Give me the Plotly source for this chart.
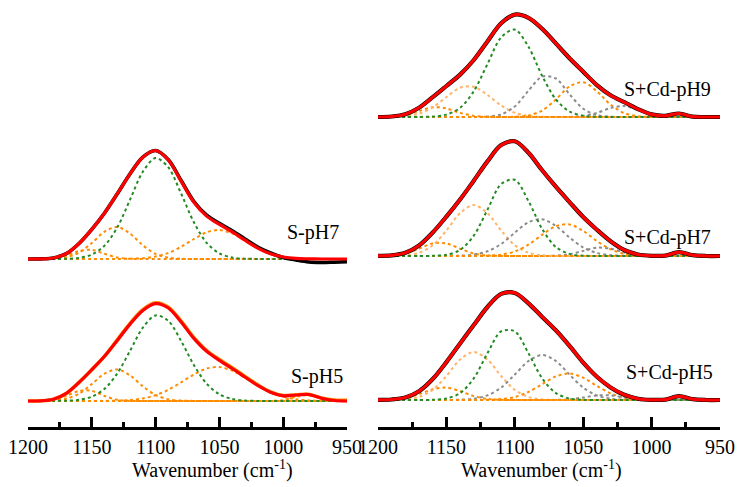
import plotly.graph_objects as go

# ---------------- data ----------------
wavenumber = [1200, 1190, 1180, 1170, 1160, 1150, 1140, 1130, 1120, 1110, 1100, 1090, 1080,
              1070, 1060, 1050, 1040, 1030, 1020, 1010, 1000, 990, 980, 970, 960, 950]
tick_labels = [1200, 1150, 1100, 1050, 1000, 950]
axis_title = "Wavenumber (cm<sup>-1</sup>)"

# S-pH7 : fitted bands (absorbance, arbitrary units)
s_ph7_band_1153 = [0, 0.1, 0.7, 3.4, 8.0, 9.2, 5.2, 1.5, 0.2, 0, 0, 0, 0, 0, 0, 0, 0, 0, 0, 0, 0, 0, 0, 0, 0, 0]
s_ph7_band_1131 = [0, 0, 0.3, 1.7, 6.4, 16.0, 27.4, 32.0, 25.4, 13.7, 5.1, 1.3, 0.2, 0, 0, 0, 0, 0, 0, 0, 0, 0, 0, 0, 0, 0]
s_ph7_band_1099 = [0, 0, 0, 0.2, 1.1, 4.4, 13.4, 31.7, 59.4, 87.3, 100.9, 91.6, 65.4, 36.7, 16.2, 5.6, 1.5, 0.3, 0.1, 0, 0, 0, 0, 0, 0, 0]
s_ph7_band_1051 = [0, 0, 0, 0, 0, 0, 0, 0.1, 0.2, 0.8, 2.5, 6.1, 12.2, 20.0, 26.7, 29.0, 25.6, 18.5, 10.8, 5.2, 2.0, 0.6, 0.2, 0, 0, 0]
s_ph7_measured = [0, 0.1, 1.0, 5.3, 15.5, 29.6, 46.0, 65.2, 85.2, 101.8, 108.5, 99.3, 78.5, 57.5, 43.8, 35.6, 28.3, 20.0, 12.0, 6.0, 1.5, -1.0, -3.0, -3.5, -3.2, -2.8]

# S-pH5
s_ph5_band_1155 = [0, 0.1, 1.2, 5.0, 10.1, 10.1, 5.0, 1.2, 0.1, 0, 0, 0, 0, 0, 0, 0, 0, 0, 0, 0, 0, 0, 0, 0, 0, 0]
s_ph5_band_1131 = [0, 0.1, 0.5, 2.3, 7.3, 16.9, 27.4, 31.5, 25.5, 14.7, 6.0, 1.7, 0.4, 0.1, 0, 0, 0, 0, 0, 0, 0, 0, 0, 0, 0, 0]
s_ph5_band_1098 = [0, 0, 0.1, 0.3, 1.2, 4.3, 12.2, 27.6, 50.3, 73.3, 85.6, 80.1, 60.0, 36.0, 17.3, 6.7, 2.1, 0.5, 0.1, 0, 0, 0, 0, 0, 0, 0]
s_ph5_band_1052 = [0, 0, 0, 0, 0, 0, 0.1, 0.3, 1.0, 2.6, 5.8, 11.2, 18.6, 26.5, 32.4, 33.9, 30.4, 23.5, 15.5, 8.7, 4.3, 1.8, 0.6, 0.2, 0.1, 0]
s_ph5_band_982 = [0, 0, 0, 0, 0, 0, 0, 0, 0, 0, 0, 0, 0, 0, 0, 0, 0, 0, 0, 0.1, 0.9, 4.2, 5.9, 2.6, 0.4, 0]
s_ph5_measured = [0, 0.2, 1.8, 7.5, 18.6, 31.2, 44.8, 61.2, 77.7, 91.4, 98.2, 93.8, 79.8, 63.4, 50.5, 41.4, 33.3, 24.6, 16.2, 9.2, 5.5, 6.2, 6.6, 3.0, 1.0, 0.6]

# S+Cd-pH9
cd_ph9_band_1157 = [0, 0.4, 2.0, 5.9, 9.8, 8.6, 4.1, 1.1, 0.2, 0, 0, 0, 0, 0, 0, 0, 0, 0, 0, 0, 0, 0, 0, 0, 0, 0]
cd_ph9_band_1134 = [0, 0.1, 0.8, 3.3, 9.6, 20.0, 29.2, 30.2, 22.1, 11.5, 4.2, 1.1, 0.2, 0, 0, 0, 0, 0, 0, 0, 0, 0, 0, 0, 0, 0]
cd_ph9_band_1102 = [0, 0, 0, 0.1, 0.4, 2.4, 9.1, 25.7, 52.9, 79.6, 87.4, 70.2, 41.1, 17.6, 5.5, 1.3, 0.2, 0, 0, 0, 0, 0, 0, 0, 0, 0]
cd_ph9_band_1076 = [0, 0, 0, 0, 0, 0, 0, 0, 0.4, 2.6, 10.5, 26.3, 40.4, 38.5, 22.7, 8.3, 1.9, 0.3, 0, 0, 0, 0, 0, 0, 0, 0]
cd_ph9_band_1052 = [0, 0, 0, 0, 0, 0, 0, 0, 0, 0, 0.3, 1.6, 6.5, 17.5, 30.5, 34.7, 25.7, 12.4, 3.9, 0.8, 0.1, 0, 0, 0, 0, 0]
cd_ph9_band_1022 = [0, 0, 0, 0, 0, 0, 0, 0, 0, 0, 0, 0, 0, 0, 0.1, 1.0, 4.1, 9.0, 10.9, 7.1, 2.5, 0.5, 0.1, 0, 0, 0]
cd_ph9_band_981 = [0, 0, 0, 0, 0, 0, 0, 0, 0, 0, 0, 0, 0, 0, 0, 0, 0, 0, 0, 0, 0, 0.7, 3.4, 0.3, 0, 0]

# S+Cd-pH7
cd_ph7_band_1155 = [0.1, 0.5, 2.5, 7.3, 12.6, 12.6, 7.3, 2.5, 0.5, 0.1, 0, 0, 0, 0, 0, 0, 0, 0, 0, 0, 0, 0, 0, 0, 0, 0]
cd_ph7_band_1130 = [0, 0.1, 0.7, 3.2, 10.7, 25.5, 42.9, 51.0, 42.9, 25.5, 10.7, 3.2, 0.7, 0.1, 0, 0, 0, 0, 0, 0, 0, 0, 0, 0, 0, 0]
cd_ph7_band_1104 = [0, 0, 0, 0, 0.2, 1.2, 6.0, 20.3, 46.2, 71.9, 76.2, 55.0, 27.0, 9.0, 2.1, 0.3, 0, 0, 0, 0, 0, 0, 0, 0, 0, 0]
cd_ph7_band_1082 = [0, 0, 0, 0, 0, 0.1, 0.3, 1.4, 4.7, 12.0, 23.3, 33.8, 36.8, 30.1, 18.5, 8.5, 3.0, 0.8, 0.2, 0, 0, 0, 0, 0, 0, 0]
cd_ph7_band_1063 = [0, 0, 0, 0, 0, 0, 0, 0.1, 0.3, 1.4, 4.5, 11.3, 21.2, 29.8, 31.6, 25.1, 15.0, 6.7, 2.3, 0.6, 0.1, 0, 0, 0, 0, 0]
cd_ph7_band_1037 = [0, 0, 0, 0, 0, 0, 0, 0, 0, 0, 0, 0, 0, 0.3, 1.7, 5.1, 8.3, 7.3, 3.5, 0.9, 0.1, 0, 0, 0, 0, 0]
cd_ph7_band_979 = [0, 0, 0, 0, 0, 0, 0, 0, 0, 0, 0, 0, 0, 0, 0, 0, 0, 0, 0, 0, 0, 0.4, 3.9, 0.8, 0, 0]

# S+Cd-pH5
cd_ph5_band_1152 = [0.1, 0.4, 1.9, 5.8, 10.7, 12.4, 8.9, 3.9, 1.1, 0.2, 0, 0, 0, 0, 0, 0, 0, 0, 0, 0, 0, 0, 0, 0, 0, 0]
cd_ph5_band_1130 = [0, 0.1, 0.6, 3.0, 10.1, 24.0, 40.4, 48.0, 40.4, 24.0, 10.1, 3.0, 0.6, 0.1, 0, 0, 0, 0, 0, 0, 0, 0, 0, 0, 0, 0]
cd_ph5_band_1105 = [0, 0, 0, 0, 0.2, 1.5, 6.9, 21.7, 46.7, 68.6, 68.6, 46.7, 21.7, 6.9, 1.5, 0.2, 0, 0, 0, 0, 0, 0, 0, 0, 0, 0]
cd_ph5_band_1080 = [0, 0, 0, 0, 0, 0, 0.3, 1.3, 4.6, 12.4, 25.4, 39.0, 45.0, 39.0, 25.4, 12.4, 4.6, 1.3, 0.3, 0, 0, 0, 0, 0, 0, 0]
cd_ph5_band_1061 = [0, 0, 0, 0, 0, 0, 0, 0, 0.2, 0.9, 3.0, 8.0, 15.8, 23.6, 26.5, 22.3, 14.1, 6.7, 2.4, 0.6, 0.1, 0, 0, 0, 0, 0]
cd_ph5_band_1035 = [0, 0, 0, 0, 0, 0, 0, 0, 0, 0, 0, 0, 0, 0.1, 0.7, 2.5, 4.6, 4.6, 2.5, 0.7, 0.1, 0, 0, 0, 0, 0]
cd_ph5_band_979 = [0, 0, 0, 0, 0, 0, 0, 0, 0, 0, 0, 0, 0, 0, 0, 0, 0, 0, 0, 0, 0, 0.4, 3.9, 0.8, 0, 0]

# ---------------- styling / layout ----------------
ORANGE = "#FF8C00"
LIGHT_ORANGE = "#FFB469"
GREEN = "#238B23"
GRAY = "#8C8C8C"
RED = "#FF0000"
FONT = "Times New Roman"

# the page has an 8 px body margin: place everything 8 px up/left of the target
SHIFT = 8
PLOT_H = 427 - SHIFT  # plot-area height in px (1 data unit = 1 px)

fig = go.Figure()


def add_spectrum(xa, ya, base, bands, measured=None, measured_color="black", measured_width=4.2):
    for vals, color in bands:
        fig.add_trace(go.Scatter(
            x=wavenumber, y=[base + v for v in vals], xaxis=xa, yaxis=ya,
            mode="lines", line=dict(color=color, width=2, dash="dot", shape="spline", smoothing=0.9),
            hoverinfo="skip"))
    fit = [sum(t) for t in zip(*[b[0] for b in bands])]
    under = measured if measured is not None else fit
    fig.add_trace(go.Scatter(
        x=wavenumber, y=[base + v for v in under], xaxis=xa, yaxis=ya,
        mode="lines", line=dict(color=measured_color, width=measured_width, shape="spline", smoothing=0.9),
        hoverinfo="skip"))
    fig.add_trace(go.Scatter(
        x=wavenumber, y=[base + v for v in fit], xaxis=xa, yaxis=ya,
        mode="lines", line=dict(color=RED, width=3.2, shape="spline", smoothing=0.9),
        hoverinfo="skip"))


add_spectrum("x", "y", 168, [(s_ph7_band_1153, ORANGE), (s_ph7_band_1131, ORANGE),
                             (s_ph7_band_1051, ORANGE), (s_ph7_band_1099, GREEN)],
             measured=s_ph7_measured, measured_width=3.6)
add_spectrum("x", "y", 26, [(s_ph5_band_1155, ORANGE), (s_ph5_band_1131, ORANGE),
                            (s_ph5_band_1052, ORANGE), (s_ph5_band_982, ORANGE), (s_ph5_band_1098, GREEN)],
             measured=s_ph5_measured, measured_color=ORANGE, measured_width=3.6)

add_spectrum("x2", "y2", 310, [(cd_ph9_band_1157, ORANGE), (cd_ph9_band_1134, LIGHT_ORANGE),
                               (cd_ph9_band_1076, GRAY), (cd_ph9_band_1052, ORANGE),
                               (cd_ph9_band_1022, GRAY), (cd_ph9_band_981, ORANGE), (cd_ph9_band_1102, GREEN)])
add_spectrum("x2", "y2", 171, [(cd_ph7_band_1155, ORANGE), (cd_ph7_band_1130, LIGHT_ORANGE),
                               (cd_ph7_band_1082, GRAY), (cd_ph7_band_1063, ORANGE),
                               (cd_ph7_band_1037, GRAY), (cd_ph7_band_979, ORANGE), (cd_ph7_band_1104, GREEN)])
add_spectrum("x2", "y2", 27, [(cd_ph5_band_1152, ORANGE), (cd_ph5_band_1130, LIGHT_ORANGE),
                              (cd_ph5_band_1080, GRAY), (cd_ph5_band_1061, ORANGE),
                              (cd_ph5_band_1035, GRAY), (cd_ph5_band_979, ORANGE), (cd_ph5_band_1105, GREEN)])

xaxis_style = dict(
    range=[1200, 950], showline=True, linewidth=3, linecolor="black", mirror=False,
    ticks="inside", ticklen=10, tickwidth=3, tickcolor="black",
    tickvals=tick_labels, ticktext=[str(t) for t in tick_labels],
    minor=dict(tickvals=[1175, 1125, 1075, 1025, 975], ticks="inside", ticklen=5,
               tickwidth=3, tickcolor="black"),
    tickfont=dict(family=FONT, size=20, color="black"),
    showgrid=False, zeroline=False, fixedrange=True, automargin=False,
)
yaxis_style = dict(range=[0, PLOT_H], visible=False, fixedrange=True, automargin=False)

fig.update_layout(
    template="none",
    width=744, height=487,
    margin=dict(l=0, r=0, t=0, b=487 - PLOT_H, pad=0, autoexpand=False),
    paper_bgcolor="white", plot_bgcolor="white",
    showlegend=False,
    xaxis=dict(domain=[(28 - SHIFT) / 744, (347 - SHIFT) / 744], anchor="y", **xaxis_style),
    xaxis2=dict(domain=[(378 - SHIFT) / 744, (720 - SHIFT) / 744], anchor="y2", **xaxis_style),
    yaxis=dict(anchor="x", **yaxis_style),
    yaxis2=dict(anchor="x2", **yaxis_style),
    font=dict(family=FONT, color="black"),
)

annotations = [
    ("S-pH7", 313, 232),
    ("S-pH5", 317, 376),
    ("S+Cd-pH9", 667, 90),
    ("S+Cd-pH7", 667, 237),
    ("S+Cd-pH5", 669, 372),
    (axis_title, 213, 469),
    (axis_title, 541, 469),
]
for text, px, py in annotations:
    fig.add_annotation(text=text, x=(px - SHIFT) / 744, y=(427 - py) / PLOT_H,
                       xref="paper", yref="paper", xanchor="center", yanchor="middle",
                       showarrow=False, font=dict(family=FONT, size=20, color="black"))

fig.write_html("out.html")
